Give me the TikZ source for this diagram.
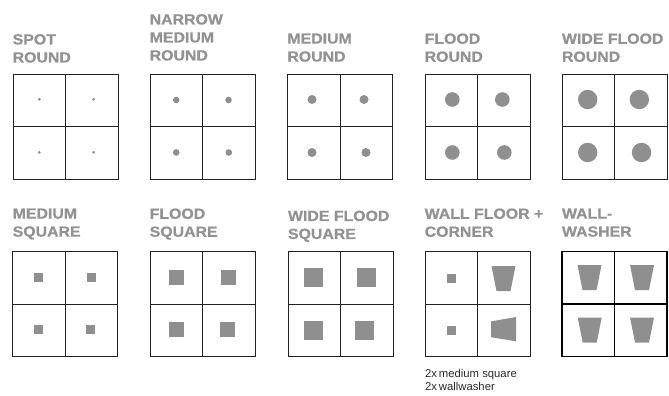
\documentclass[tikz,border=0pt]{standalone}
\usepackage{fontspec}
\setmainfont{Liberation Sans}
\newfontfamily\lblfont[FakeStretch=1.08,FakeBold=0.6]{Liberation Sans Bold}
\newfontfamily\capfont{Liberation Sans}
\definecolor{lblgray}{HTML}{929292}
\definecolor{fillgray}{HTML}{8F8F8F}
\definecolor{gridline}{HTML}{222222}
\definecolor{captext}{HTML}{2A2A2A}
\tikzset{
  lbl/.style={anchor=north west, inner sep=0pt, align=left, text=lblgray,
    font=\lblfont\fontsize{14.7}{18}\selectfont},
  captxt/.style={anchor=base west, inner sep=0pt, text=captext,
    font=\capfont\fontsize{11.3}{13}\selectfont},
  gridbox/.style={draw=gridline, line width=1pt},
  washbox/.style={draw=black, line width=1.6pt},
  lamp/.style={fill=fillgray, draw=none},
}
\newcommand\fourcell[3]{%
  \draw[#3] (#1,#2) rectangle ++(105,105);
  \draw[#3] (#1+52.5,#2) -- ++(0,105);
  \draw[#3] (#1,#2+52.5) -- ++(105,0);
}
\newcommand\rdot[3]{\fill[lamp] (#1,#2) circle[radius=#3pt];}
\newcommand\sqlamp[3]{\fill[lamp] (#1-#3/2,#2-#3/2) rectangle (#1+#3/2,#2+#3/2);}
\newcommand\trapdown[2]{\fill[lamp] (#1-12,#2-12.5) -- (#1+12,#2-12.5) -- (#1+7,#2+12.5) -- (#1-7,#2+12.5) -- cycle;}
\begin{document}
\begin{tikzpicture}[x=1pt,y=-1pt]
\useasboundingbox (0,0) rectangle (669,396);
\fill[white] (0,0) rectangle (669,396);

% ---- labels, top row
\node[lbl] (l1) at (12.5,34) {SPOT\\ROUND};
\node[lbl] (l2) at (149.5,14) {NARROW\\MEDIUM\\ROUND};
\node[lbl] (l3) at (287.2,33.3) {MEDIUM\\ROUND};
\node[lbl] (l4) at (424.5,33.3) {FLOOD\\ROUND};
\node[lbl] (l5) at (561.8,33.3) {WIDE FLOOD\\ROUND};
% ---- labels, bottom row
\node[lbl] (l6) at (12.5,208.3) {MEDIUM\\SQUARE};
\node[lbl] (l7) at (149.5,208.3) {FLOOD\\SQUARE};
\node[lbl] (l8) at (287.8,210.5) {WIDE FLOOD\\SQUARE};
\node[lbl] (l9) at (424.5,208.3) {WALL FLOOR +\\CORNER};
\node[lbl] (l10) at (561.8,208.3) {WALL-\\WASHER};

% ---- grids, top row
\fourcell{13}{74}{gridbox}
\fourcell{150}{74}{gridbox}
\fourcell{287.7}{74}{gridbox}
\fourcell{425}{74}{gridbox}
\fourcell{562}{74}{gridbox}
% ---- grids, bottom row
\fourcell{12.7}{251.5}{gridbox}
\fourcell{150}{251.5}{gridbox}
\fourcell{288}{251.5}{gridbox}
\fourcell{425}{251.5}{gridbox}
\fourcell{562}{251.5}{washbox}

% spot round
\rdot{39.3}{99.3}{1.5}\rdot{93.6}{99.3}{1.5}\rdot{39.3}{152.3}{1.5}\rdot{93.6}{152.3}{1.5}
% narrow medium round
\rdot{176.2}{100}{3.3}\rdot{228.5}{100}{3.3}\rdot{176.2}{152.5}{3.3}\rdot{228.8}{152.5}{3.3}
% medium round
\rdot{312}{99.5}{4.5}\rdot{364}{99.5}{4.5}\rdot{312}{152.5}{4.5}\rdot{366}{152.5}{4.5}
% flood round
\rdot{452.3}{99.5}{7.3}\rdot{502.3}{99.5}{7.3}\rdot{452.3}{152.5}{7.3}\rdot{504.3}{152.5}{7.3}
% wide flood round
\rdot{587.7}{99.5}{9.7}\rdot{639.3}{99.5}{9.7}\rdot{587.7}{152.5}{9.7}\rdot{641.5}{152.5}{9.7}

% medium square
\sqlamp{38.3}{277.3}{9}\sqlamp{91.3}{277.3}{9}\sqlamp{38.3}{329.3}{9}\sqlamp{90.3}{329.3}{9}
% flood square
\sqlamp{176.7}{277.3}{15}\sqlamp{228.3}{277.3}{15}\sqlamp{176.7}{329.3}{15}\sqlamp{227.3}{329.3}{15}
% wide flood square
\sqlamp{313.3}{277.3}{19}\sqlamp{366.7}{277.3}{19}\sqlamp{313.3}{330.3}{19}\sqlamp{364.3}{330.3}{19}
% wall floor + corner
\sqlamp{451.3}{278}{9}\sqlamp{451.3}{330}{9}
\trapdown{503.5}{278.7}
\fill[lamp] (516,317) -- (516,341.3) -- (491,337.2) -- (491,321.4) -- cycle;
% wall-washer
\trapdown{589.5}{277.5}\trapdown{642}{277.5}\trapdown{589.7}{330}\trapdown{642}{330}

% caption
\node[captxt] (c1) at (425,377) {2x\hspace{1.8pt}medium square};
\node[captxt] (c2) at (425,390.5) {2x\hspace{1.8pt}wallwasher};
\end{tikzpicture}
\end{document}
